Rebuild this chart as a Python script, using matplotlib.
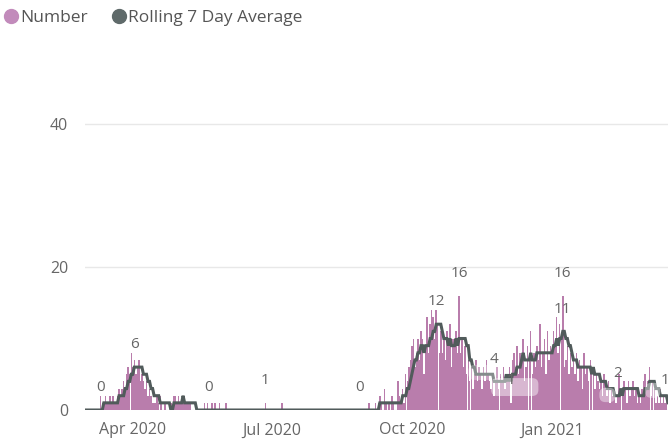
import numpy as np
import pandas as pd
import matplotlib
matplotlib.use('Agg')
import matplotlib.pyplot as plt
import matplotlib.patches as mpatches
from matplotlib.lines import Line2D

plt.rcParams['font.family'] = ['Open Sans', 'DejaVu Sans']

# daily counts, one list per month, starting 1 Mar 2020
mar20 = [0, 0, 0, 0, 0, 0, 0, 0, 0, 0, 2, 1, 1, 2, 1, 1, 2, 1, 2, 1, 1, 2, 3, 2,
         3, 4, 3, 5, 6, 5, 8]
apr20 = [6, 7, 5, 6, 7, 4, 5, 4, 3, 4, 2, 3, 2, 1, 1, 1, 2, 1, 2, 1, 0,
         1, 0, 0, 0, 1, 0, 2, 2, 1]
may20 = [2, 1, 1, 2, 1, 1, 1, 1, 1, 0, 0, 0, 0, 0, 0, 0, 0,
         1, 0, 1, 0, 0, 1, 0, 1, 0, 0, 1, 0, 0, 0]
jun20 = [1] + [0] * 25 + [1, 0, 0, 0]
jul20 = [0] * 7 + [1] + [0] * 23
aug20 = [0] * 31
sep20 = [0, 0, 1, 0, 0, 0, 1, 0, 1, 2, 1, 0, 3, 1, 0, 1, 0, 2, 1, 0,
         0, 4, 2, 1, 3, 1, 5, 4, 6, 7]
oct20 = [9, 10, 6, 8, 10, 7, 11, 10, 5, 9, 13, 8, 12, 14, 13, 10, 14, 12, 8, 11, 8,
         10, 7, 11, 9, 12, 6, 10, 9, 11, 8]
nov20 = [16, 8, 10, 6, 9, 5, 7, 4, 6, 3, 5, 7, 4, 6, 5, 3, 6, 4, 7, 5, 4,
         3, 5, 2, 4, 6, 3, 5, 4, 6]
dec20 = [3, 5, 4, 6, 1, 7, 8, 6, 9, 5, 8, 7, 10, 4, 6, 9, 7, 11, 5, 8, 6,
         9, 7, 12, 6, 8, 10, 5, 11, 7, 9]
jan21 = [8, 11, 9, 13, 8, 12, 10, 16, 6, 7, 9, 5, 8, 6, 7, 5, 8, 4, 7, 6, 3,
         8, 5, 6, 4, 7, 5, 6, 3, 5, 4]
feb21 = [3, 4, 2, 5, 3, 2, 4, 1, 3, 2, 2, 1, 2, 5, 3, 2, 4, 3, 1, 4, 2,
         3, 4, 2, 3, 1, 2, 1]
mar21 = [3, 4, 5, 3, 4, 6, 2, 4, 3, 1, 2, 1, 3, 1, 2, 1, 2, 0, 1, 2]

counts = mar20 + apr20 + may20 + jun20 + jul20 + aug20 + sep20 + oct20 + nov20 + dec20 + jan21 + feb21 + mar21
dates = pd.date_range('2020-03-01', periods=len(counts), freq='D')
df = pd.DataFrame({'number': counts}, index=dates)
df['rolling'] = np.floor(df['number'].rolling(7, min_periods=1).mean() + 0.5)

# labelled points: (date, series)
point_labels = [
    ('2020-03-11', 'rolling'), ('2020-05-21', 'rolling'), ('2020-06-27', 'number'),
    ('2020-08-28', 'rolling'), ('2020-11-01', 'number'), ('2020-11-24', 'rolling'),
    ('2020-12-05', 'number'), ('2021-01-08', 'number'), ('2021-02-13', 'rolling'),
    ('2021-03-16', 'number'),
]
# peaks of the rolling average get a label too
peak_ranges = [('2020-03-01', '2020-05-01'), ('2020-10-01', '2020-11-30'), ('2021-01-01', '2021-01-31')]

bar_color = '#B97DAC'
line_color = '#515B5B'
text_color = '#666666'

fig = plt.figure(figsize=(6.68, 4.42), dpi=100)
ax = fig.add_axes([85 / 668, 32 / 442, 583 / 668, 357.5 / 442])

ax.bar(df.index, df['number'], width=0.95, color=bar_color, linewidth=0, zorder=2)
ax.plot(df.index, df['rolling'], color=line_color, linewidth=2.2, zorder=3,
        solid_joinstyle='miter')

ax.set_ylim(0, 50)
ax.set_xlim(pd.Timestamp('2020-03-01') - pd.Timedelta(hours=8), pd.Timestamp('2021-03-18'))
ax.set_yticks([0, 20, 40])
ax.grid(axis='y', color='#E8E8E8', linewidth=1, zorder=0)
ax.set_axisbelow(True)
for s in ax.spines.values():
    s.set_visible(False)

ticks = pd.to_datetime(['2020-04-01', '2020-07-01', '2020-10-01', '2021-01-01'])
ax.set_xticks(ticks)
ax.set_xticklabels([t.strftime('%b %Y') for t in ticks])
ax.tick_params(axis='both', length=0, labelsize=11.5, colors=text_color)
ax.tick_params(axis='y', pad=12)
ax.tick_params(axis='x', pad=9)

# translucent label backgrounds
aspect = (1 / 7.15) / (1 / 1.525)
boxes = [('2020-11-07', 21.5, 4.2, 2.1, 0.3),
         ('2020-11-22', 31, 1.96, 2.5, 0.45),
         ('2021-02-01', 10.5, 1.1, 2.0, 0.4),
         ('2021-03-03', 10, 1.7, 2.1, 0.4)]
for start, width, y0, h, a in boxes:
    x0 = matplotlib.dates.date2num(pd.Timestamp(start))
    ax.add_patch(mpatches.FancyBboxPatch((x0, y0), width, h,
                                         boxstyle='round,pad=0,rounding_size=4',
                                         mutation_aspect=aspect, fc='white', ec='none',
                                         alpha=a, zorder=4))

def put_label(day, series):
    v = df.loc[pd.Timestamp(day), series]
    ax.annotate(f'{int(v)}', (pd.Timestamp(day), v), xytext=(0, 16),
                textcoords='offset points', ha='center', va='center',
                fontsize=11, color=text_color, zorder=6)

for day, series in point_labels:
    put_label(day, series)
for a, b in peak_ranges:
    put_label(df.loc[a:b, 'rolling'].idxmax(), 'rolling')

handles = [Line2D([], [], marker='o', linestyle='none', markersize=10, color='#C28BBB'),
           Line2D([], [], marker='o', linestyle='none', markersize=10, color='#5F6A6A')]
fig.legend(handles, ['Number', 'Rolling 7 Day Average'], loc='upper left',
           bbox_to_anchor=(-0.016, 1.013), ncol=2, frameon=False, fontsize=12.5,
           handlelength=0.7, handletextpad=0.2, columnspacing=1.4,
           labelcolor='#555555')

fig.savefig('out.png', dpi=100)
